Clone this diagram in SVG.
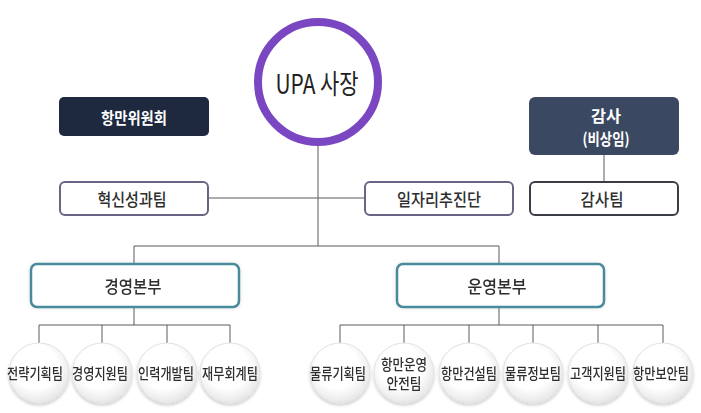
<svg xmlns="http://www.w3.org/2000/svg" width="701" height="413" viewBox="0 0 701 413">
<defs>
<style>
text{font-family:"Noto Sans CJK KR","Noto Sans",sans-serif;text-anchor:middle;dominant-baseline:central}
.lnk{stroke:#5a5a5e;stroke-width:1;fill:none}
.dark{fill:#1e2940}
.slate{fill:#3b4862}
.wt{fill:#ffffff;font-weight:bold;font-size:16px}
.out1{fill:#fff;stroke:#6a6484;stroke-width:2}
.out2{fill:#fff;stroke:#3a3d44;stroke-width:2}
.div{fill:#fff;stroke:#4a8a9c;stroke-width:2.5}
.t{fill:#2e2e2e;font-size:17px;font-weight:500}
.ct{fill:#2e2e2e;font-size:15px;font-weight:500}
.team{fill:url(#cg);stroke:#e2e2e2;stroke-width:1}
</style>
<radialGradient id="cg" cx="0.45" cy="0.4" r="0.6">
<stop offset="0.6" stop-color="#ffffff"/>
<stop offset="1" stop-color="#e7e7e7"/>
</radialGradient>
<filter id="sh" x="-20%" y="-20%" width="140%" height="140%">
<feGaussianBlur in="SourceAlpha" stdDeviation="1.5"/>
<feOffset dx="0" dy="1.5" result="b"/>
<feComponentTransfer><feFuncA type="linear" slope="0.2"/></feComponentTransfer>
<feMerge><feMergeNode/><feMergeNode in="SourceGraphic"/></feMerge>
</filter>
<filter id="glow" x="-10%" y="-30%" width="120%" height="160%">
<feGaussianBlur in="SourceAlpha" stdDeviation="2"/>
<feComponentTransfer><feFuncA type="linear" slope="0.12"/></feComponentTransfer>
<feMerge><feMergeNode/><feMergeNode in="SourceGraphic"/></feMerge>
</filter>
</defs>
<rect width="701" height="413" fill="#ffffff"/>
<g id="connectors">
<path class="lnk" d="M318,146 V246"/>
<path class="lnk" d="M208,198 H365"/>
<path class="lnk" d="M604,155 V182"/>
<path class="lnk" d="M134,263 V246 H499 V263"/>
<path class="lnk" d="M134,307 V325"/>
<path class="lnk" d="M39,343 V325 H230 V343 M102,325 V343 M167,325 V343"/>
<path class="lnk" d="M499,307 V325"/>
<path class="lnk" d="M340,343 V325 H663 V343 M404,325 V343 M469,325 V343 M533,325 V343 M598,325 V343"/>
</g>
<g id="ceo">
<circle cx="318" cy="82" r="60" fill="#fff" stroke="#7b46c1" stroke-width="8"/>
<text x="317" y="82" font-size="27" fill="#222" textLength="83" lengthAdjust="spacingAndGlyphs">UPA 사장</text>
</g>
<g id="board">
<rect class="dark" x="59" y="97" width="150" height="39" rx="5"/>
<text class="wt" x="134" y="116.5" font-size="17" textLength="66" lengthAdjust="spacingAndGlyphs">항만위원회</text>
</g>
<g id="audit">
<rect class="slate" x="529" y="97" width="150" height="58" rx="6"/>
<text class="wt" x="606" y="115" font-size="15" textLength="30" lengthAdjust="spacingAndGlyphs">감사</text>
<text class="wt" x="606" y="138" font-size="14" textLength="47" lengthAdjust="spacingAndGlyphs">(비상임)</text>
</g>
<g id="innovation">
<rect class="out1" x="60" y="182" width="148" height="33" rx="5"/>
<text class="t" x="132" y="198" textLength="69" lengthAdjust="spacingAndGlyphs">혁신성과팀</text>
</g>
<g id="jobs">
<rect class="out1" x="365" y="182" width="148" height="33" rx="5"/>
<text class="t" x="439" y="198" textLength="84" lengthAdjust="spacingAndGlyphs">일자리추진단</text>
</g>
<g id="auditteam">
<rect class="out2" x="530" y="182" width="148" height="33" rx="5"/>
<text class="t" x="602" y="198" textLength="43" lengthAdjust="spacingAndGlyphs">감사팀</text>
</g>
<g id="mgmt" filter="url(#glow)">
<rect class="div" x="31" y="264" width="208" height="43" rx="6"/>
<text class="t" x="133" y="285" textLength="57" lengthAdjust="spacingAndGlyphs">경영본부</text>
</g>
<g id="ops" filter="url(#glow)">
<rect class="div" x="397" y="264" width="207" height="43" rx="6"/>
<text class="t" x="497" y="285" textLength="59" lengthAdjust="spacingAndGlyphs">운영본부</text>
</g>
<g id="team1" filter="url(#sh)"><circle class="team" cx="39" cy="373" r="30"/><text class="ct" x="35" y="372" textLength="56" lengthAdjust="spacingAndGlyphs">전략기획팀</text></g>
<g id="team2" filter="url(#sh)"><circle class="team" cx="102" cy="373" r="30"/><text class="ct" x="100" y="372" textLength="56" lengthAdjust="spacingAndGlyphs">경영지원팀</text></g>
<g id="team3" filter="url(#sh)"><circle class="team" cx="167" cy="373" r="30"/><text class="ct" x="166" y="372" textLength="56" lengthAdjust="spacingAndGlyphs">인력개발팀</text></g>
<g id="team4" filter="url(#sh)"><circle class="team" cx="230" cy="373" r="30"/><text class="ct" x="230" y="372" textLength="56" lengthAdjust="spacingAndGlyphs">재무회계팀</text></g>
<g id="team5" filter="url(#sh)"><circle class="team" cx="340" cy="373" r="30"/><text class="ct" x="338" y="372" textLength="56" lengthAdjust="spacingAndGlyphs">물류기획팀</text></g>
<g id="team6" filter="url(#sh)"><circle class="team" cx="404" cy="373" r="30"/><text class="ct" x="404" y="363" textLength="46" lengthAdjust="spacingAndGlyphs">항만운영</text><text class="ct" x="404" y="382" textLength="35" lengthAdjust="spacingAndGlyphs">안전팀</text></g>
<g id="team7" filter="url(#sh)"><circle class="team" cx="469" cy="373" r="30"/><text class="ct" x="469" y="372" textLength="56" lengthAdjust="spacingAndGlyphs">항만건설팀</text></g>
<g id="team8" filter="url(#sh)"><circle class="team" cx="533" cy="373" r="30"/><text class="ct" x="533" y="372" textLength="56" lengthAdjust="spacingAndGlyphs">물류정보팀</text></g>
<g id="team9" filter="url(#sh)"><circle class="team" cx="598" cy="373" r="30"/><text class="ct" x="598" y="372" textLength="56" lengthAdjust="spacingAndGlyphs">고객지원팀</text></g>
<g id="team10" filter="url(#sh)"><circle class="team" cx="663" cy="373" r="30"/><text class="ct" x="661" y="372" font-size="14" textLength="56" lengthAdjust="spacingAndGlyphs">항만보안팀</text></g>
</svg>
